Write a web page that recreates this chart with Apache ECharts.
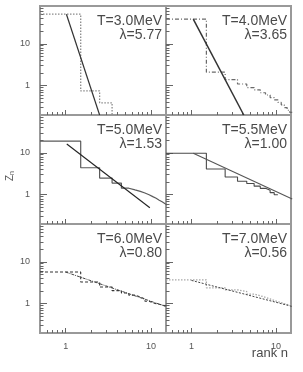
<!DOCTYPE html>
<html><head><meta charset="utf-8">
<script src="https://cdn.jsdelivr.net/npm/echarts@6/dist/echarts.min.js"></script>
<style>html,body{margin:0;padding:0;background:#fff}#c{width:303px;height:372px}</style>
</head><body><div id="c"></div>
<script>
// ---- data ----
const rankMin = 0.5, rankMax = 15;
const zMin = 0.2, zMax = 80;
const xLabelTicks = [1, 10];
const xMinorTicks = [0.6, 0.7, 0.8, 0.9, 2, 3, 4, 5, 6, 7, 8, 9];
const yLabelTicks = [1, 10];
const yMinorTicks = [0.3, 0.4, 0.5, 0.6, 0.7, 0.8, 0.9, 2, 3, 4, 5, 6, 7, 8, 9, 20, 30, 40, 50, 60, 70];

const temps = ['T=3.0MeV', 'T=4.0MeV', 'T=5.0MeV', 'T=5.5MeV', 'T=6.0MeV', 'T=7.0MeV'];
const lambdas = ['λ=5.77', 'λ=3.65', 'λ=1.53', 'λ=1.00', 'λ=0.80', 'λ=0.56'];

// mean charge Z_n by rank n = 1, 2, 3, ...
const z30 = [51, 0.75, 0.39, 0.1];
const z40 = [39, 2.1, 1.4, 1.1, 0.9, 0.8, 0.68, 0.6, 0.52, 0.46, 0.4, 0.35, 0.3, 0.26, 0.23];
const z50 = [19, 4.4, 2.5, 1.9, 1.43, 1.3, 1.2, 1.1, 1.0, 0.9, 0.82, 0.74, 0.68, 0.62, 0.57];
const z55 = [9.8, 4.1, 2.65, 2.1, 1.85, 1.6, 1.42, 1.28, 1.12, 1.0];
const z60 = [5.7, 3.3, 2.5, 2.05, 1.8, 1.6, 1.45, 1.3, 1.15, 1.05, 1.0, 0.97, 0.94, 0.9, 0.88];
const z70 = [3.7, 2.4, 2.15, 1.95, 1.7, 1.55, 1.42, 1.3, 1.2, 1.12, 1.06, 1.0, 0.96, 0.93, 0.9];

// power-law fit lines Z_n ~ n^-lambda (end points)
const fit30x = [1.02, 2.5],  fit30y = [51, 0.2];
const fit40x = [1.05, 4.15], fit40y = [39, 0.2];
const fit50x = [1.03, 9.7],  fit50y = [16.3, 0.49];
const fit55x = [1.05, 15.5], fit55y = [9.8, 0.79];
const fit60x = [1.0, 15],    fit60y = [5.7, 0.86];
const fit70x = [1.0, 15.5],  fit70y = [3.6, 0.86];

// ---- layout/styles ----
const FONT = 'Liberation Sans, Arial, sans-serif';
const colLeft = [40, 166], colWidth = [126, 125];
const rowTop = [6, 115, 224], rowH = 109;
const zSets = [z30, z40, z50, z55, z60, z70];
const fitX = [fit30x, fit40x, fit50x, fit55x, fit60x, fit70x];
const fitY = [fit30y, fit40y, fit50y, fit55y, fit60y, fit70y];
const dataStyles = [
  {color: '#8a8a8a', type: [1.5, 1.5], width: 1.3},
  {color: '#6a6a6a', type: [4, 2, 1, 2], width: 1.2},
  {color: '#5a5a5a', type: 'solid', width: 1.2},
  {color: '#4a4a4a', type: 'solid', width: 1.1},
  {color: '#333333', type: [3, 2], width: 1.1},
  {color: '#a8a8a8', type: [1.5, 1.5], width: 1.3}
];
const fitStyles = [
  {color: '#333', type: 'solid', width: 1.2},
  {color: '#333', type: 'solid', width: 1.5},
  {color: '#222', type: 'solid', width: 1.1},
  {color: '#555', type: 'solid', width: 1.1},
  {color: '#444', type: [3, 1, 1, 1], width: 1},
  {color: '#444', type: [2, 1.5], width: 1}
];

function stepData(z) {
  const out = [];
  z.forEach((v, i) => { const n = i + 1; out.push([n - 0.5, v]); out.push([n + 0.5, v]); });
  return out;
}

const grids = [], xAxes = [], yAxes = [], series = [], graphics = [];
for (let i = 0; i < 6; i++) {
  const row = Math.floor(i / 2), col = i % 2;
  grids.push({left: colLeft[col], top: rowTop[row], width: colWidth[col], height: rowH,
    show: true, borderColor: '#999', borderWidth: 2, backgroundColor: 'transparent'});
  const tickStyle = {color: '#666', width: 1};
  xAxes.push({type: 'log', logBase: 10, gridIndex: i, position: 'bottom', min: rankMin, max: rankMax,
    axisLine: {show: false}, splitLine: {show: false},
    axisTick: {show: true, inside: true, length: 5, customValues: xLabelTicks, lineStyle: tickStyle},
    axisLabel: {show: row === 2, customValues: xLabelTicks, fontSize: 9, color: '#555', margin: 9, fontFamily: FONT}});
  xAxes.push({type: 'log', logBase: 10, gridIndex: i, position: 'bottom', min: rankMin, max: rankMax,
    axisLine: {show: false}, splitLine: {show: false},
    axisTick: {show: true, inside: true, length: 3, customValues: xMinorTicks, lineStyle: tickStyle},
    axisLabel: {show: false}});
  yAxes.push({type: 'log', logBase: 10, gridIndex: i, position: 'left', min: zMin, max: zMax,
    axisLine: {show: false}, splitLine: {show: false},
    axisTick: {show: true, inside: true, length: 7, customValues: yLabelTicks, lineStyle: tickStyle},
    axisLabel: {show: col === 0, customValues: yLabelTicks, fontSize: 9, color: '#555', margin: 10, fontFamily: FONT}});
  yAxes.push({type: 'log', logBase: 10, gridIndex: i, position: 'left', min: zMin, max: zMax,
    axisLine: {show: false}, splitLine: {show: false},
    axisTick: {show: true, inside: true, length: 3.5, customValues: yMinorTicks, lineStyle: tickStyle},
    axisLabel: {show: false}});
  series.push({type: 'line', xAxisIndex: 2 * i, yAxisIndex: 2 * i, data: stepData(zSets[i]),
    symbol: 'none', clip: true, silent: true, animation: false, lineStyle: dataStyles[i]});
  series.push({type: 'line', xAxisIndex: 2 * i, yAxisIndex: 2 * i,
    data: fitX[i].map((x, k) => [x, fitY[i][k]]),
    symbol: 'none', clip: true, silent: true, animation: false, lineStyle: fitStyles[i]});
  graphics.push({type: 'text', x: colLeft[col] + colWidth[col] - 4, y: rowTop[row] + 8,
    style: {text: temps[i] + '\n' + lambdas[i], align: 'right', verticalAlign: 'top',
      font: '14px ' + FONT, lineHeight: 14, fill: '#4a4a4a'}});
}
graphics.push({type: 'text', x: 10, y: 176, rotation: Math.PI / 2,
  style: {text: '{z|Z}{n|n}', align: 'center', verticalAlign: 'middle',
    rich: {z: {fontSize: 10, fontFamily: FONT, fill: '#555', color: '#555'},
           n: {fontSize: 7, fontFamily: FONT, fill: '#555', color: '#555', padding: [5, 0, 0, 0]}}}});
graphics.push({type: 'text', x: 288, y: 353,
  style: {text: 'rank n', align: 'right', verticalAlign: 'middle', font: '13px ' + FONT, fill: '#4a4a4a'}});

const chart = echarts.init(document.getElementById('c'), null, {renderer: 'canvas'});
chart.setOption({animation: false, backgroundColor: '#fff', grid: grids, xAxis: xAxes, yAxis: yAxes,
  series: series, graphic: graphics});
</script></body></html>
